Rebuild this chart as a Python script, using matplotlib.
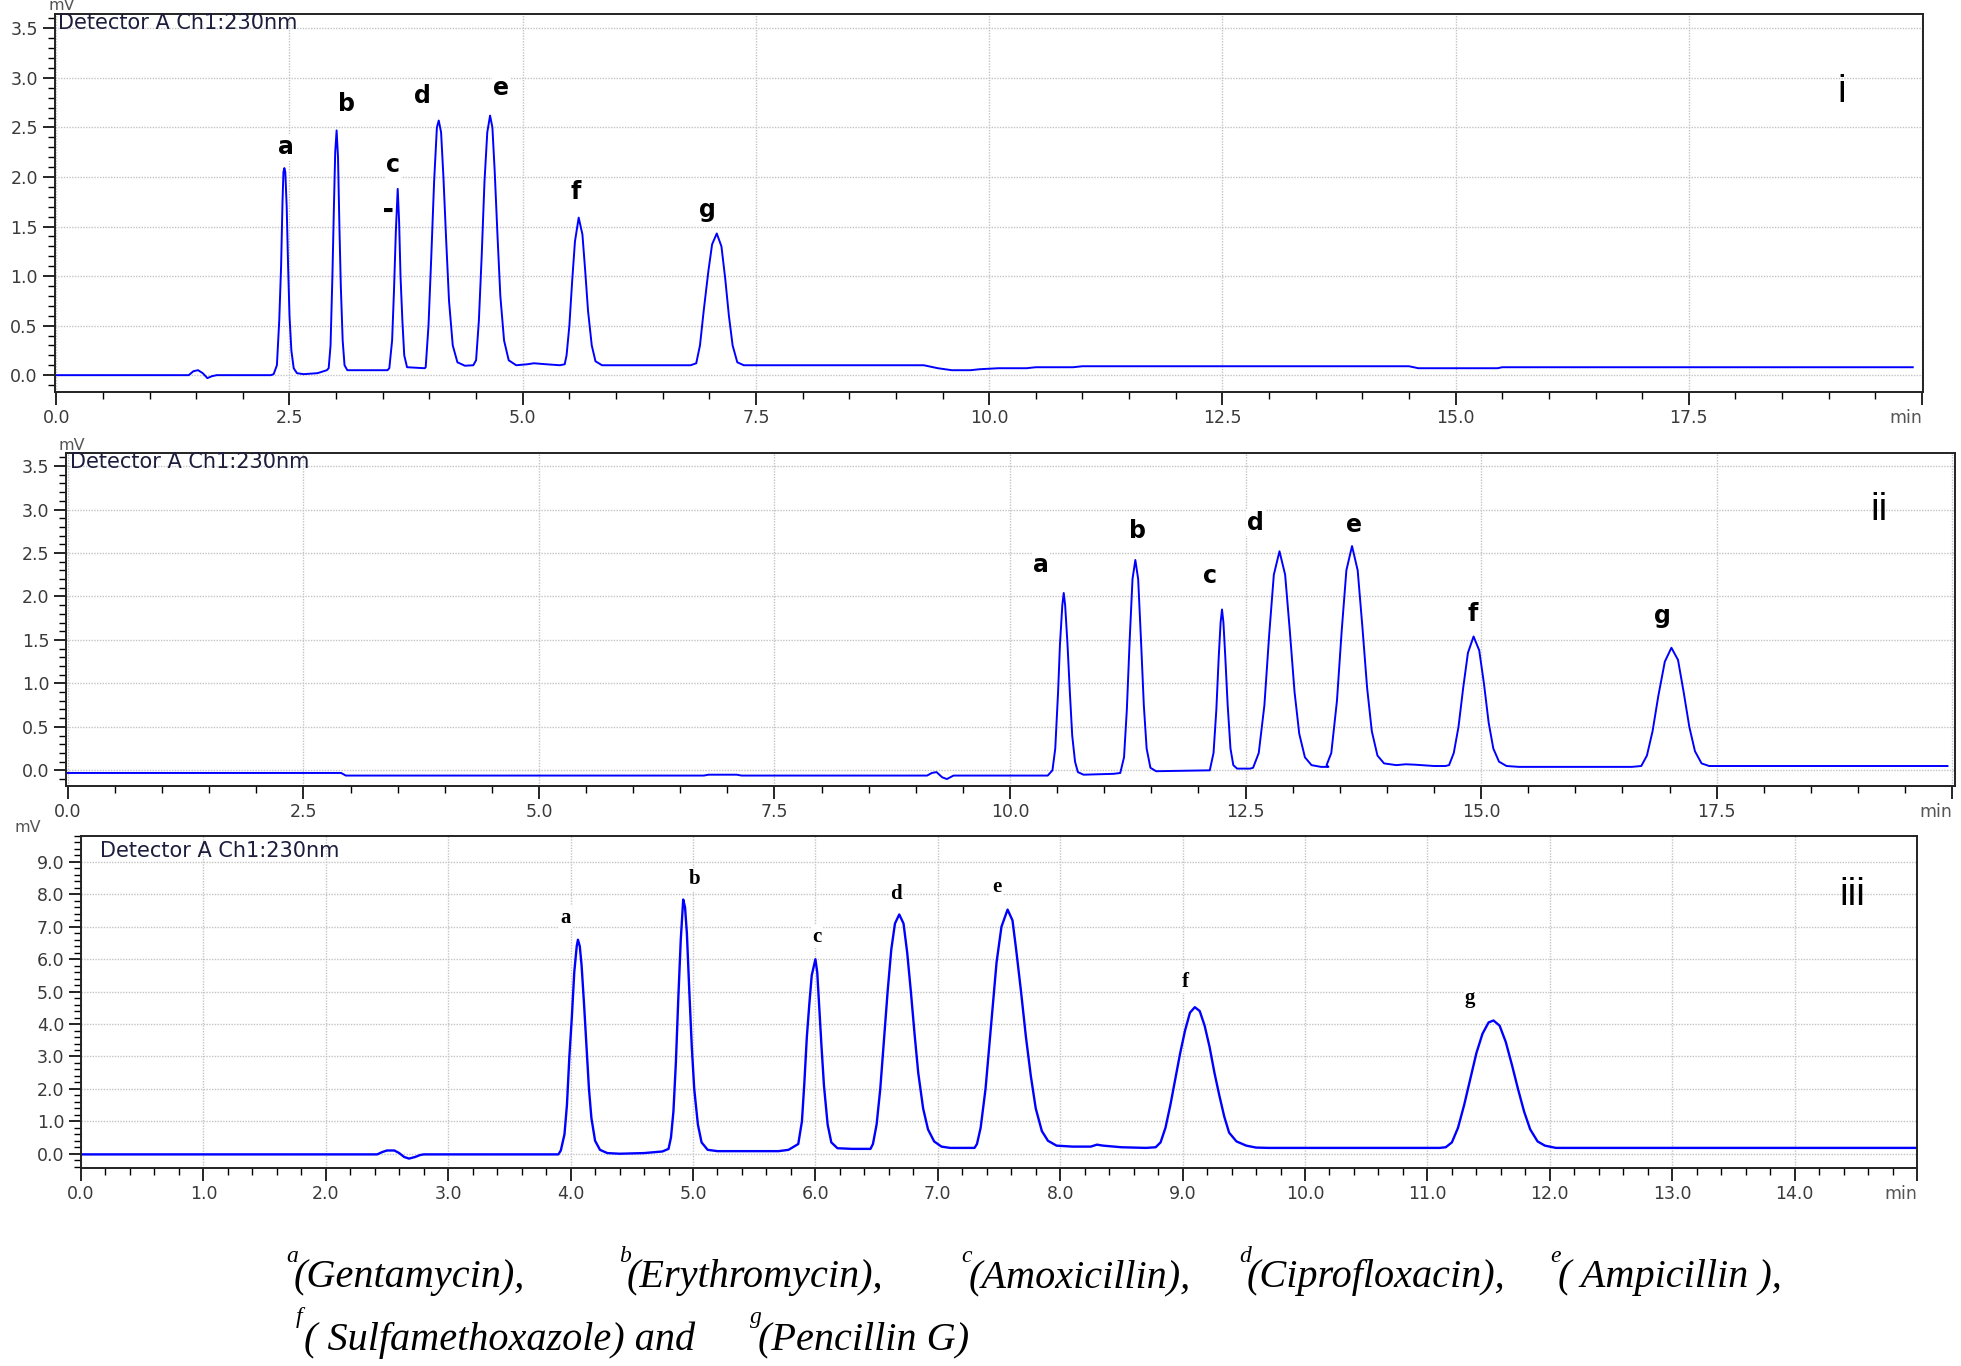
import matplotlib
matplotlib.use("Agg")
import matplotlib.pyplot as plt
from matplotlib.ticker import MultipleLocator, FixedLocator, FixedFormatter

# ---- trace i (0-20 min) : time, mV ----
t1 = [0.0, 1.42, 1.47, 1.52, 1.57, 1.62, 1.67, 1.72, 2.3,
      2.33, 2.365, 2.39, 2.41, 2.425, 2.435, 2.445, 2.455, 2.47, 2.485, 2.5, 2.52, 2.545, 2.58, 2.65, 2.8, 2.9,
      2.92, 2.94, 2.96, 2.975, 2.99, 3.005, 3.02, 3.035, 3.05, 3.07, 3.09, 3.12, 3.55,
      3.57, 3.6, 3.62, 3.64, 3.66, 3.675, 3.69, 3.71, 3.73, 3.76, 3.95,
      3.96, 3.99, 4.02, 4.05, 4.08, 4.10, 4.125, 4.15, 4.18, 4.21, 4.25, 4.3, 4.38, 4.47,
      4.5, 4.53, 4.56, 4.59, 4.62, 4.65, 4.675, 4.7, 4.73, 4.76, 4.8, 4.85, 4.93, 5.05, 5.12, 5.25, 5.4, 5.45,
      5.47, 5.5, 5.53, 5.56, 5.6, 5.64, 5.67, 5.7, 5.74, 5.78, 5.85, 6.8,
      6.86, 6.9, 6.94, 6.99, 7.03, 7.08, 7.13, 7.17, 7.21, 7.25, 7.3, 7.37, 9.3, 9.45, 9.6, 9.8, 9.9,
      10.1, 10.4, 10.5, 10.9, 11.0, 14.5, 14.6, 15.45, 15.5, 19.9]
v1 = [0.0, 0.0, 0.04, 0.05, 0.02, -0.03, -0.01, 0.0, 0.0,
      0.01, 0.1, 0.55, 1.1, 1.75, 2.05, 2.09, 2.05, 1.7, 1.1, 0.6, 0.25, 0.07, 0.02, 0.01, 0.02, 0.05,
      0.07, 0.3, 1.0, 1.65, 2.25, 2.47, 2.2, 1.5, 0.9, 0.35, 0.1, 0.05, 0.05,
      0.07, 0.35, 0.85, 1.45, 1.88, 1.55, 1.0, 0.55, 0.2, 0.08, 0.07,
      0.08, 0.5, 1.2, 1.95, 2.5, 2.57, 2.45, 2.0, 1.35, 0.75, 0.3, 0.13, 0.095, 0.1,
      0.15, 0.55, 1.2, 1.95, 2.45, 2.62, 2.5, 2.05, 1.4, 0.8, 0.35, 0.15, 0.1, 0.11, 0.12, 0.11, 0.1, 0.11,
      0.2, 0.5, 0.95, 1.35, 1.59, 1.42, 1.05, 0.65, 0.3, 0.14, 0.1, 0.1,
      0.12, 0.3, 0.65, 1.05, 1.32, 1.43, 1.3, 0.98, 0.6, 0.3, 0.13, 0.1, 0.1, 0.07, 0.05, 0.05, 0.06,
      0.07, 0.07, 0.08, 0.08, 0.09, 0.09, 0.07, 0.07, 0.08, 0.08]

# ---- trace ii (0-20 min) ----
t2 = [0.0, 2.9, 2.95, 6.75, 6.8, 7.1, 7.15, 9.12, 9.17, 9.22, 9.28, 9.33, 9.4, 10.4,
      10.45, 10.48, 10.51, 10.53, 10.555, 10.57, 10.585, 10.61, 10.635, 10.66, 10.69, 10.72, 10.78, 11.1,
      11.17, 11.21, 11.24, 11.27, 11.30, 11.33, 11.36, 11.39, 11.42, 11.45, 11.49, 11.55, 12.1,
      12.12, 12.16, 12.19, 12.215, 12.235, 12.25, 12.265, 12.285, 12.31, 12.34, 12.37, 12.41, 12.55,
      12.58, 12.64, 12.7, 12.75, 12.8, 12.86, 12.92, 12.97, 13.02, 13.07, 13.13, 13.2, 13.3, 13.38,
      13.36, 13.41, 13.47, 13.52, 13.57, 13.63, 13.69, 13.74, 13.79, 13.84, 13.9, 13.97, 14.1, 14.2, 14.3, 14.5, 14.62,
      14.66, 14.71, 14.76, 14.81, 14.86, 14.92, 14.98, 15.03, 15.08, 15.13, 15.19, 15.27, 15.4, 16.6,
      16.7, 16.76, 16.82, 16.88, 16.95, 17.02, 17.09, 17.15, 17.21, 17.27, 17.34, 17.42, 19.95]
v2 = [-0.03, -0.03, -0.06, -0.06, -0.05, -0.05, -0.06, -0.06, -0.03, -0.02, -0.08, -0.1, -0.06, -0.06,
      0.0, 0.25, 0.9, 1.45, 1.9, 2.04, 1.9, 1.45, 0.9, 0.4, 0.1, -0.02, -0.05, -0.04,
      -0.03, 0.15, 0.7, 1.5, 2.2, 2.42, 2.2, 1.5, 0.75, 0.25, 0.03, -0.01, 0.0,
      0.0, 0.2, 0.7, 1.3, 1.7, 1.85, 1.7, 1.3, 0.75, 0.25, 0.06, 0.02, 0.02,
      0.03, 0.2, 0.75, 1.55, 2.25, 2.52, 2.25, 1.6, 0.9, 0.42, 0.15, 0.06, 0.04, 0.04,
      0.06, 0.2, 0.8, 1.6, 2.3, 2.58, 2.3, 1.65, 0.95, 0.45, 0.17, 0.08, 0.06, 0.07, 0.065, 0.05, 0.05,
      0.06, 0.2, 0.5, 0.95, 1.35, 1.54, 1.38, 1.0, 0.55, 0.25, 0.1, 0.05, 0.04, 0.04,
      0.05, 0.17, 0.45, 0.85, 1.25, 1.41, 1.27, 0.9, 0.5, 0.22, 0.08, 0.05, 0.05]

# ---- trace iii (0-15 min) ----
t3 = [0.0, 2.42, 2.46, 2.5, 2.56, 2.6, 2.64, 2.68, 2.73, 2.77, 2.8, 3.9,
      3.92, 3.95, 3.97, 3.99, 4.01, 4.03, 4.05, 4.06, 4.075, 4.09, 4.11, 4.13, 4.15, 4.17, 4.2, 4.24, 4.3, 4.4, 4.6, 4.75, 4.8,
      4.82, 4.84, 4.86, 4.88, 4.9, 4.92, 4.935, 4.95, 4.97, 4.99, 5.01, 5.04, 5.07, 5.12, 5.2, 5.7, 5.78,
      5.86, 5.89, 5.91, 5.93, 5.95, 5.97, 6.0, 6.015, 6.03, 6.05, 6.07, 6.1, 6.13, 6.18, 6.3, 6.45,
      6.47, 6.5, 6.53, 6.56, 6.59, 6.62, 6.65, 6.685, 6.72, 6.75, 6.78, 6.81, 6.84, 6.88, 6.92, 6.97, 7.03, 7.1, 7.3,
      7.32, 7.35, 7.39, 7.42, 7.45, 7.48, 7.52, 7.57, 7.61, 7.64, 7.68, 7.72, 7.76, 7.8, 7.85, 7.9, 7.97, 8.1, 8.25, 8.3, 8.35, 8.5, 8.7, 8.78,
      8.82, 8.86, 8.9, 8.94, 8.98, 9.02, 9.06, 9.1, 9.14, 9.18, 9.22, 9.26, 9.3, 9.34, 9.38, 9.44, 9.52, 9.6, 9.7, 11.1,
      11.15, 11.2, 11.25, 11.3, 11.35, 11.4, 11.45, 11.5, 11.54, 11.59, 11.64, 11.69, 11.74, 11.79, 11.84, 11.9, 11.96, 12.05, 15.0]
v3 = [-0.02, -0.02, 0.05, 0.1, 0.1, 0.02, -0.1, -0.15, -0.1, -0.04, -0.02, -0.02,
      0.1, 0.6, 1.5, 3.0, 4.2, 5.6, 6.4, 6.6, 6.4, 5.8, 4.6, 3.3, 2.0, 1.1, 0.4, 0.12, 0.02, 0.0, 0.02, 0.07, 0.15,
      0.5, 1.3, 2.8, 4.8, 6.6, 7.84, 7.6, 6.8, 5.0, 3.3, 2.0, 0.9, 0.35, 0.12, 0.08, 0.08, 0.12,
      0.3, 1.0, 2.2, 3.6, 4.6, 5.5, 6.0, 5.6, 4.6, 3.3, 2.1, 0.9, 0.35, 0.17, 0.15, 0.15,
      0.3, 0.9, 2.0, 3.5, 5.0, 6.3, 7.1, 7.38, 7.1, 6.2, 5.0, 3.7, 2.5, 1.4, 0.75, 0.38, 0.22, 0.18, 0.18,
      0.3, 0.8, 2.0, 3.3, 4.6, 5.9, 7.0, 7.53, 7.2, 6.3, 5.0, 3.6, 2.4, 1.4, 0.7, 0.4, 0.25, 0.22, 0.22, 0.28, 0.25, 0.2, 0.18, 0.2,
      0.35, 0.8, 1.5, 2.3, 3.1, 3.8, 4.35, 4.52, 4.4, 3.95, 3.3, 2.5, 1.8, 1.15, 0.65, 0.38, 0.25, 0.19, 0.18, 0.18,
      0.2, 0.35, 0.8, 1.5, 2.3, 3.1, 3.7, 4.05, 4.11, 3.95, 3.45, 2.75, 2.0, 1.3, 0.75, 0.38, 0.25, 0.18, 0.18]

peak_names = ["a", "b", "c", "d", "e", "f", "g"]
lab1_x = [2.46, 3.106, 3.61, 3.93, 4.77, 5.57, 6.98]
lab1_y = [2.30, 2.74, 2.12, 2.82, 2.90, 1.85, 1.67]
lab2_x = [10.33, 11.35, 12.12, 12.61, 13.65, 14.91, 16.93]
lab2_y = [2.36, 2.75, 2.23, 2.85, 2.82, 1.80, 1.78]
lab3_x = [3.96, 5.01, 6.01, 6.66, 7.48, 9.02, 11.35]
lab3_y = [7.28, 8.46, 6.69, 8.02, 8.23, 5.30, 4.81]

caption1 = [("a", "(Gentamycin),", 286), ("b", "(Erythromycin),", 619),
            ("c", "(Amoxicillin),", 961), ("d", "(Ciprofloxacin),", 1239),
            ("e", "( Ampicillin ),", 1550)]
caption2 = [("f", "( Sulfamethoxazole) and", 296), ("g", "(Pencillin G)", 750)]

W, H = 1961, 1366
fig = plt.figure(figsize=(W / 100, H / 100), dpi=100)


def box(l, t, r, b):
    return [l / W, 1 - b / H, (r - l) / W, (b - t) / H]


def style(ax, xmax, xmaj, xmin_, ymaj, ymin_, ylim, xlim):
    ax.set_xlim(*xlim)
    ax.set_ylim(*ylim)
    ticks = []
    v = 0.0
    while v <= xmax + 1e-9:
        ticks.append(round(v, 3))
        v += xmaj
    labels = ["%.1f" % x for x in ticks[:-1]] + ["min"]
    ax.xaxis.set_major_locator(FixedLocator(ticks))
    ax.xaxis.set_major_formatter(FixedFormatter(labels))
    ax.xaxis.set_minor_locator(MultipleLocator(xmin_))
    ax.yaxis.set_major_locator(MultipleLocator(ymaj))
    ax.yaxis.set_minor_locator(MultipleLocator(ymin_))
    ax.yaxis.set_major_formatter(matplotlib.ticker.FormatStrFormatter("%.1f"))
    ax.tick_params(which="major", direction="out", length=9, width=1.2,
                   labelsize=12.5, labelcolor="#3a3a3a", pad=3)
    ax.tick_params(which="minor", direction="out", length=5, width=1.0)
    ax.grid(True, which="major", color="#c4c4c4", linestyle=(0, (1, 1)), linewidth=1.0)
    ax.set_axisbelow(True)
    for s in ax.spines.values():
        s.set_linewidth(1.4)
        s.set_color("#222222")
    # "min" sits just left of the last tick
    ax.figure.canvas.draw()
    last = ax.get_xticklabels()[-1]
    last.set_horizontalalignment("right")
    last.set_color("#555555")


def header(dx, dy, mvx, mvy):
    fig.text(mvx / W, 1 - mvy / H, "mV", fontsize=11.5, color="#555555",
             ha="center", va="center")
    fig.text(dx / W, 1 - dy / H, "Detector A Ch1:230nm", fontsize=15,
             color="#1c1c3c", ha="left", va="top")


# panel i
ax1 = fig.add_axes(box(54.5, 14, 1923, 392))
ax1.plot(t1, v1, color="#0000ff", lw=1.4)
style(ax1, 20, 2.5, 0.5, 0.5, 0.1, (-0.17, 3.645), (-0.019, 20.01))
header(58, 13, 62, 5)
for n, x, y in zip(peak_names, lab1_x, lab1_y):
    ax1.text(x, y, n, fontsize=17, ha="center", va="center", color="black",
             weight="bold", bbox=dict(fc="white", ec="none", pad=1))
ax1.text(3.56, 1.67, "\u25ac", fontsize=8, ha="center", va="center", color="black")
ax1.text(19.14, 2.86, "i", fontsize=28, ha="center", va="center",
         family="Liberation Sans")

# panel ii
ax2 = fig.add_axes(box(66, 453, 1955, 786))
ax2.plot(t2, v2, color="#0000ff", lw=1.4)
style(ax2, 20, 2.5, 0.5, 0.5, 0.1, (-0.18, 3.65), (-0.02, 20.03))
header(70, 452, 72, 446)
for n, x, y in zip(peak_names, lab2_x, lab2_y):
    ax2.text(x, y, n, fontsize=17, ha="center", va="center", color="black",
             weight="bold", bbox=dict(fc="white", ec="none", pad=1))
ax2.text(19.22, 2.99, "ii", fontsize=28, ha="center", va="center",
         family="Liberation Sans")

# panel iii
ax3 = fig.add_axes(box(81, 836, 1917, 1168))
ax3.plot(t3, v3, color="#0000ff", lw=1.7)
style(ax3, 15, 1.0, 0.2, 1.0, 0.2, (-0.44, 9.8), (0.0, 15.0))
header(100, 841, 28, 827)
for n, x, y in zip(peak_names, lab3_x, lab3_y):
    ax3.text(x, y, n, fontsize=15, ha="center", va="center", color="black",
             family="Liberation Serif", weight="bold",
             bbox=dict(fc="white", ec="none", pad=1))
ax3.text(14.47, 7.97, "iii", fontsize=28, ha="center", va="center",
         family="Liberation Sans")

# caption
for row, yc in ((caption1, 1278), (caption2, 1340)):
    for sup, txt, x in row:
        fig.text(x / W, 1 - (yc - 22) / H, sup, fontsize=17, style="italic",
                 family="Liberation Serif", ha="left", va="center")
        fig.text((x + 8) / W, 1 - yc / H, txt, fontsize=29, style="italic",
                 family="Liberation Serif", ha="left", va="center")

fig.savefig("out.png", dpi=100, facecolor="white")
